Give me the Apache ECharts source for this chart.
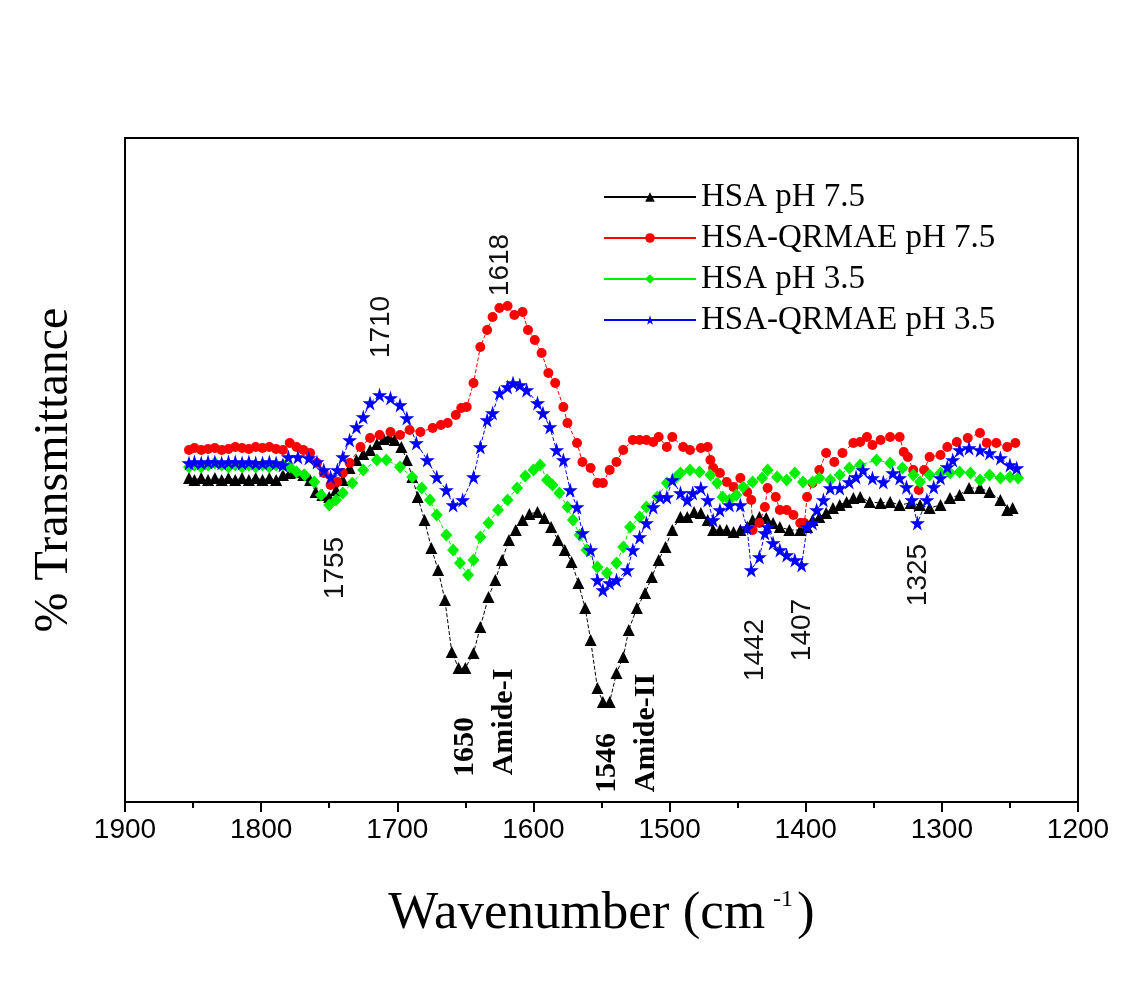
<!DOCTYPE html>
<html>
<head>
<meta charset="utf-8">
<script src="https://cdn.jsdelivr.net/npm/echarts@6/dist/echarts.min.js"></script>
<style>
html,body{margin:0;padding:0;background:#fff;}
#chart{width:1125px;height:1002px;}
</style>
</head>
<body>
<div id="chart"></div>
<script>
// Wavenumber (cm-1) vs % Transmittance (arbitrary units)
var seriesNames = ['HSA pH 7.5', 'HSA-QRMAE pH 7.5', 'HSA pH 3.5', 'HSA-QRMAE pH 3.5'];
var xTicks = [1900, 1800, 1700, 1600, 1500, 1400, 1300, 1200];

var hsa75 = [
[1853,32.4],[1849,32.2],[1844,32.4],[1839,32.2],[1834,32.4],[1829,32.2],[1824,32.4],[1819,32.2],[1814,32.4],[1809,32.2],
[1804,32.4],[1799,32.2],[1794,32.4],[1789,32.2],[1784,32.7],[1779,32.9],[1774,33.0],[1769,32.7],[1764,32.2],[1760,31.0],
[1755,30.7],[1750,30.5],[1745,31.2],[1740,32.2],[1735,33.4],[1730,34.2],[1725,34.8],[1720,35.2],[1715,35.8],[1710,36.3],
[1706,36.5],[1702,36.2],[1697,35.5],[1693,34.2],[1689,32.5],[1685,30.5],[1680,28.2],[1675,25.4],[1670,23.2],[1665,20.2],
[1660,15.0],[1655,13.4],[1650,13.4],[1644,14.9],[1639,17.5],[1633,20.5],[1628,22.2],[1623,24.2],[1618,26.2],[1613,27.2],
[1608,28.2],[1603,28.8],[1597,29.0],[1592,28.4],[1587,27.5],[1582,26.2],[1577,25.2],[1572,24.0],[1567,21.9],[1562,19.4],
[1558,16.2],[1553,11.4],[1549,10.0],[1544,10.0],[1539,12.9],[1534,14.5],[1530,17.2],[1524,19.4],[1518,20.9],[1513,22.5],
[1508,24.2],[1503,25.5],[1498,27.2],[1492,28.5],[1487,28.5],[1482,29.0],[1477,28.9],[1472,28.2],[1468,27.2],[1463,27.2],
[1458,27.2],[1453,27.0],[1448,27.2],[1443,27.5],[1439,28.2],[1434,28.5],[1429,28.4],[1424,27.9],[1419,27.5],[1412,27.2],
[1404,27.2],[1399,27.5],[1395,28.2],[1390,28.5],[1385,28.9],[1380,29.4],[1375,29.7],[1370,30.0],[1365,30.4],[1360,30.5],
[1353,30.0],[1345,29.9],[1338,30.0],[1331,29.7],[1323,29.9],[1316,29.7],[1309,29.4],[1301,29.7],[1294,30.4],[1287,30.7],
[1280,31.4],[1272,31.4],[1265,31.0],[1257,30.2],[1252,29.2],[1248,29.4]
];

var qrmae75 = [
[1853,35.2],[1849,35.4],[1844,35.2],[1839,35.3],[1834,35.4],[1829,35.2],[1824,35.3],[1819,35.5],[1814,35.4],[1809,35.3],
[1804,35.5],[1799,35.4],[1794,35.5],[1789,35.3],[1784,35.2],[1779,35.9],[1774,35.5],[1769,35.2],[1764,34.9],[1759,33.9],
[1754,32.9],[1749,31.7],[1744,32.0],[1740,32.9],[1735,33.9],[1727,35.5],[1720,36.4],[1713,36.7],[1705,37.0],[1698,36.7],
[1691,37.2],[1683,37.0],[1674,37.4],[1668,37.7],[1663,37.9],[1657,38.7],[1653,39.4],[1649,39.5],[1644,41.9],[1639,45.5],
[1634,47.2],[1630,48.5],[1625,49.4],[1619,49.6],[1614,48.7],[1608,49.0],[1604,47.2],[1599,46.2],[1594,44.9],[1589,42.9],
[1584,41.9],[1578,39.5],[1575,37.9],[1568,35.9],[1564,34.0],[1558,33.4],[1553,31.9],[1549,31.9],[1544,33.2],[1539,34.0],
[1534,35.2],[1527,36.2],[1522,36.2],[1517,36.2],[1512,36.0],[1508,36.5],[1502,35.5],[1498,36.5],[1490,35.5],[1485,35.2],
[1477,35.4],[1472,35.5],[1470,34.2],[1468,33.4],[1463,32.9],[1458,32.0],[1453,31.5],[1448,32.4],[1443,31.0],[1440,30.2],
[1439,27.2],[1434,27.9],[1430,29.5],[1428,31.4],[1422,30.5],[1419,29.2],[1414,29.2],[1409,28.7],[1404,27.9],[1401,27.9],
[1399,30.5],[1395,31.9],[1390,33.2],[1385,34.9],[1379,34.0],[1373,34.9],[1365,35.9],[1360,36.0],[1355,36.5],[1351,35.7],
[1345,36.2],[1338,36.5],[1331,36.5],[1328,35.0],[1325,34.5],[1321,33.2],[1317,31.2],[1313,33.2],[1309,34.5],[1301,34.7],
[1296,35.5],[1289,36.0],[1281,36.4],[1272,36.9],[1267,35.9],[1260,35.9],[1252,35.5],[1246,35.9]
];

var hsa35 = [
[1853,33.5],[1849,33.7],[1844,33.5],[1839,33.7],[1834,33.9],[1829,33.7],[1824,33.5],[1819,33.7],[1814,33.5],[1809,33.7],
[1804,33.5],[1799,33.7],[1794,33.5],[1789,33.7],[1784,33.7],[1779,33.5],[1774,33.0],[1768,32.7],[1761,32.0],[1756,30.7],
[1750,29.7],[1745,30.2],[1740,30.9],[1733,31.9],[1725,33.2],[1715,34.2],[1708,34.2],[1698,33.5],[1689,32.5],[1682,31.4],
[1676,30.2],[1671,28.7],[1664,26.7],[1659,25.2],[1654,23.9],[1648,22.7],[1644,24.2],[1639,26.5],[1633,27.9],[1626,29.2],
[1619,30.2],[1612,31.4],[1606,32.6],[1600,33.2],[1595,33.7],[1590,32.2],[1586,31.7],[1581,30.9],[1575,29.5],[1571,28.2],
[1566,26.7],[1561,25.2],[1553,23.5],[1546,22.9],[1539,23.9],[1534,25.5],[1529,27.5],[1522,28.5],[1517,29.5],[1509,30.5],
[1502,31.9],[1495,32.5],[1492,32.9],[1485,33.2],[1478,33.0],[1470,32.7],[1465,31.9],[1461,30.5],[1456,30.2],[1451,30.7],
[1446,31.5],[1439,32.0],[1432,32.4],[1428,33.2],[1421,32.5],[1414,32.2],[1408,32.9],[1402,32.0],[1395,32.0],[1390,32.4],
[1382,32.2],[1375,32.7],[1368,33.4],[1360,33.7],[1348,34.2],[1338,33.9],[1329,33.4],[1321,32.7],[1316,32.0],[1309,32.7],
[1301,32.9],[1294,32.9],[1287,33.0],[1279,32.9],[1272,32.2],[1265,32.7],[1257,32.4],[1250,32.5],[1244,32.4]
];

var qrmae35 = [
[1853,33.9],[1849,34.0],[1844,33.9],[1839,34.0],[1834,34.0],[1829,33.9],[1824,34.0],[1819,34.0],[1814,33.9],[1809,34.0],
[1804,33.9],[1799,33.9],[1794,34.0],[1789,33.9],[1784,33.7],[1780,34.5],[1773,34.5],[1765,34.4],[1759,34.0],[1754,33.2],
[1749,32.5],[1744,33.2],[1740,34.5],[1735,36.2],[1730,37.5],[1725,38.5],[1720,39.9],[1713,40.7],[1705,40.4],[1698,39.7],
[1693,38.4],[1686,35.9],[1678,34.2],[1671,32.5],[1664,31.2],[1659,29.7],[1652,30.2],[1644,32.5],[1639,35.5],[1634,38.2],
[1630,38.9],[1625,40.9],[1619,41.5],[1615,41.9],[1610,41.7],[1605,41.2],[1597,39.9],[1593,38.9],[1588,37.5],[1583,35.2],
[1578,34.2],[1573,31.2],[1568,29.5],[1564,26.9],[1558,25.2],[1553,22.2],[1549,21.2],[1544,21.9],[1539,22.2],[1531,23.2],
[1527,25.2],[1522,26.5],[1517,27.9],[1512,29.5],[1507,30.5],[1502,30.5],[1498,32.2],[1492,30.9],[1487,30.2],[1483,30.9],
[1477,31.4],[1472,30.2],[1468,28.2],[1463,29.2],[1456,29.7],[1448,29.7],[1443,27.4],[1440,23.2],[1434,24.5],[1430,26.9],
[1428,27.5],[1424,25.9],[1419,25.2],[1414,24.7],[1408,24.2],[1403,23.7],[1399,27.5],[1395,27.9],[1392,29.2],[1387,30.2],
[1382,31.4],[1375,31.4],[1368,32.0],[1363,32.5],[1358,33.2],[1351,32.4],[1343,32.0],[1336,32.9],[1331,32.4],[1326,31.5],
[1322,30.2],[1318,27.9],[1311,30.2],[1306,31.5],[1301,32.4],[1296,33.5],[1292,34.2],[1287,35.2],[1280,35.4],[1272,35.2],
[1265,34.9],[1257,34.4],[1250,33.7],[1245,33.4]
];

var peakLabels = ['1710', '1618', '1755', '1442', '1407', '1325'];
var bandLabels = ['1650', 'Amide-I', '1546', 'Amide-II'];

var colors = ['#000000', '#ff0000', '#00ee00', '#0000ff'];
var starPath = 'path://M50,0 L61,35 L98,35 L68,57 L79,91 L50,70 L21,91 L32,57 L2,35 L39,35 Z';
var symbols = ['triangle', 'circle', 'diamond', starPath];
var symSizes = [12, 10, [12, 13], 15];
var datasets = [hsa75, qrmae75, hsa35, qrmae35];

var series = datasets.map(function (d, i) {
  return {
    name: seriesNames[i],
    type: 'line',
    data: d,
    symbol: symbols[i],
    symbolSize: symSizes[i],
    showAllSymbol: true,
    itemStyle: { color: colors[i] },
    lineStyle: { color: colors[i], width: 1, type: 'dashed' },
    animation: false
  };
});

var numFont = '28px "Liberation Sans", sans-serif';
var boldFont = 'bold 30px "Liberation Serif", serif';
var peakPos = [[381, 327], [500, 265], [335, 568], [755, 650], [802, 630], [918, 575]];
var bandPos = [[465, 747], [504, 722], [607, 763], [646, 733]];

var graphics = [];
peakLabels.forEach(function (t, i) {
  graphics.push({ type: 'text', x: peakPos[i][0], y: peakPos[i][1], rotation: Math.PI / 2,
    style: { text: t, font: numFont, fill: '#111', textAlign: 'center', textVerticalAlign: 'middle' } });
});
bandLabels.forEach(function (t, i) {
  graphics.push({ type: 'text', x: bandPos[i][0], y: bandPos[i][1], rotation: Math.PI / 2,
    style: { text: t, font: boldFont, fill: '#000', textAlign: 'center', textVerticalAlign: 'middle' } });
});

var chart = echarts.init(document.getElementById('chart'), null, { renderer: 'canvas' });
chart.setOption({
  backgroundColor: '#ffffff',
  animation: false,
  grid: { left: 125, right: 47, top: 138, bottom: 200, show: true, borderColor: '#000', borderWidth: 2, backgroundColor: 'transparent' },
  legend: {
    orient: 'vertical', left: 598, top: 175,
    itemWidth: 92, itemHeight: 12, itemGap: 7,
    data: seriesNames,
    lineStyle: { type: 'solid', width: 2 },
    textStyle: { fontFamily: '"Liberation Serif", serif', fontSize: 33, lineHeight: 34, color: '#000' }
  },
  xAxis: {
    type: 'value', min: 1200, max: 1900, interval: 100, inverse: true,
    name: '{a|Wavenumber (cm}{s|-1}{a|)}',
    nameLocation: 'middle', nameGap: 86,
    nameTextStyle: {
      rich: {
        a: { fontFamily: '"Liberation Serif", serif', fontSize: 53, color: '#000' },
        s: { fontFamily: '"Liberation Serif", serif', fontSize: 24, color: '#000', verticalAlign: 'top', padding: [0, 4, 0, 8] }
      }
    },
    axisLine: { show: true, lineStyle: { color: '#000', width: 2 } },
    axisTick: { show: true, inside: false, length: 10, lineStyle: { color: '#000', width: 2 } },
    minorTick: { show: true, splitNumber: 2, length: 6, lineStyle: { color: '#000', width: 2 } },
    axisLabel: { fontFamily: '"Liberation Sans", sans-serif', fontSize: 28, color: '#000', margin: 14,
      showMinLabel: true, showMaxLabel: true,
      formatter: function (v) { return xTicks.indexOf(v) >= 0 ? String(v) : ''; } },
    splitLine: { show: false }
  },
  yAxis: {
    type: 'value', min: 0, max: 66.4,
    name: '% Transmittance', nameLocation: 'middle', nameGap: 47, nameRotate: 90,
    nameTextStyle: { fontFamily: '"Liberation Serif", serif', fontSize: 48, color: '#000' },
    axisLine: { show: true, lineStyle: { color: '#000', width: 2 } },
    axisTick: { show: false }, axisLabel: { show: false }, splitLine: { show: false }
  },
  series: series,
  graphic: graphics
});
</script>
</body>
</html>
